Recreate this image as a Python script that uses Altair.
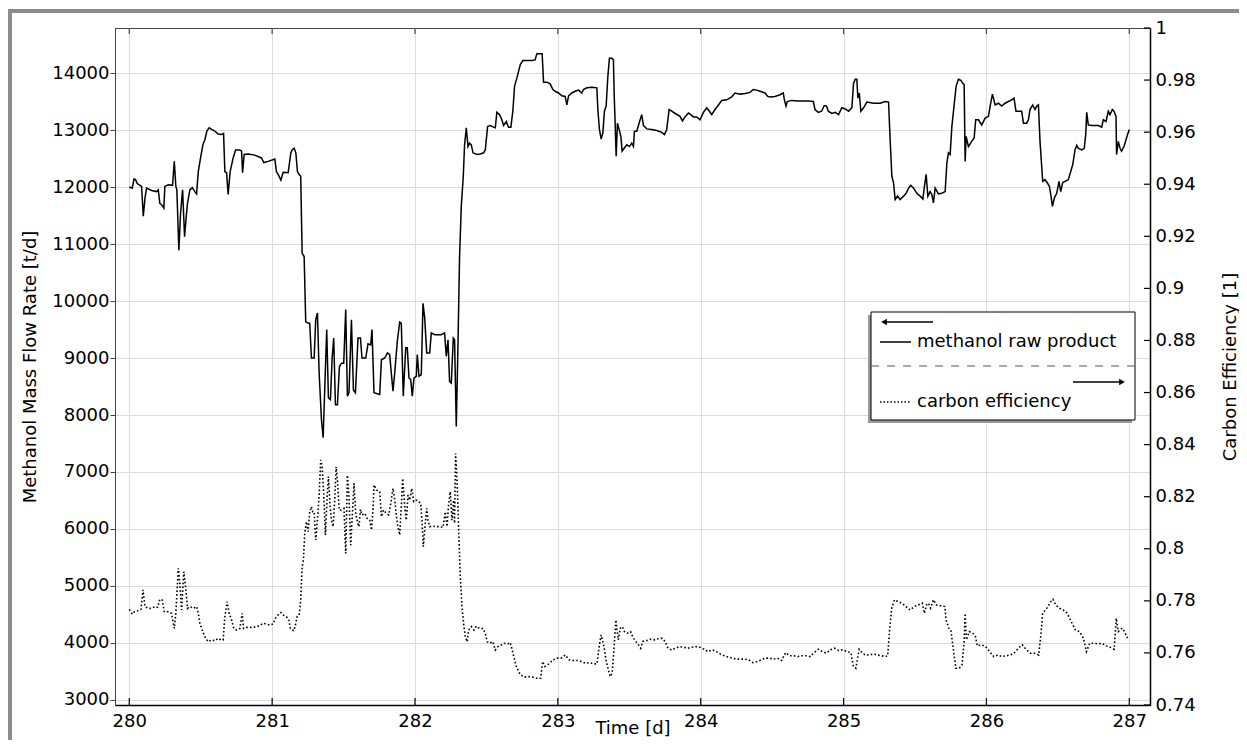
import altair as alt
import pandas as pd

# ---------------- data ----------------
flow_day = [
280.000,280.021,280.033,280.044,280.056,280.075,280.086,280.098,280.110,280.121,280.156,280.191,280.203,280.214,280.226,
280.242,280.249,280.273,280.303,280.315,280.326,280.333,280.347,280.359,280.373,280.387,280.399,280.408,280.424,280.441,
280.459,280.471,280.483,280.501,280.515,280.529,280.543,280.559,280.576,280.599,280.622,280.646,280.660,280.669,280.681,
280.692,280.706,280.727,280.744,280.774,280.786,280.793,280.804,280.832,280.879,280.925,280.942,280.972,281.019,281.030,
281.042,281.061,281.077,281.112,281.131,281.140,281.154,281.166,281.177,281.189,281.200,281.210,281.224,281.235,281.252,
281.263,281.275,281.294,281.305,281.317,281.329,281.345,281.357,281.368,281.382,281.394,281.408,281.420,281.431,281.443,
281.457,281.471,281.485,281.501,281.515,281.527,281.538,281.555,281.569,281.583,281.601,281.618,281.629,281.655,281.671,
281.690,281.699,281.713,281.753,281.765,281.788,281.807,281.823,281.834,281.846,281.858,281.876,281.893,281.904,281.918,
281.935,281.946,281.958,281.970,281.981,281.993,282.009,282.016,282.028,282.044,282.056,282.068,282.082,282.103,282.114,
282.138,282.184,282.207,282.219,282.231,282.242,282.254,282.268,282.277,282.289,282.301,282.312,282.324,282.338,282.347,
282.359,282.371,282.382,282.394,282.406,
282.434,282.457,282.480,282.492,282.508,282.527,282.550,282.562,282.573,282.592,282.608,282.620,282.639,282.655,282.671,
282.685,282.697,282.713,282.737,282.755,282.783,282.818,282.841,282.853,282.876,282.890,282.900,282.923,282.946,282.965,
282.981,283.005,283.028,283.051,283.063,283.075,283.098,283.121,283.145,283.168,283.179,283.203,283.238,283.273,283.280,
283.291,283.303,283.315,283.326,283.338,283.350,283.361,283.378,283.389,283.394,283.401,283.408,283.417,283.429,283.441,
283.450,283.464,283.483,283.501,283.517,283.529,283.536,283.552,283.576,283.587,283.599,283.622,283.657,283.692,283.727,
283.746,283.762,283.779,283.797,283.821,283.855,283.872,283.890,283.914,283.930,283.949,283.972,283.995,284.019,284.042,
284.061,284.077,284.100,284.124,284.147,284.182,284.217,284.240,284.275,284.310,284.345,284.368,284.392,284.415,284.450,
284.469,284.485,284.520,284.555,284.578,284.585,284.597,284.606,284.636,284.683,284.718,284.753,284.788,284.800,284.823,
284.846,284.865,284.881,284.893,
284.918,284.942,284.965,284.988,285.012,285.035,285.058,285.070,285.082,285.093,285.100,285.110,285.121,285.140,285.163,
285.210,285.256,285.291,285.315,285.326,285.338,285.350,285.361,285.378,285.396,285.420,285.438,285.455,285.471,285.490,
285.513,285.536,285.555,285.566,285.578,285.590,285.606,285.618,285.629,285.641,285.664,285.688,285.711,285.723,285.734,
285.746,285.758,285.774,285.788,285.804,285.821,285.834,285.844,285.851,285.858,285.874,285.897,285.914,285.925,285.944,
285.967,285.991,286.014,286.026,286.042,286.061,286.084,286.107,286.131,286.154,286.177,286.193,286.207,286.231,286.247,
286.259,286.282,286.294,286.305,286.324,286.340,286.352,286.364,286.375,286.394,286.410,286.427,286.441,286.452,286.462,
286.476,286.492,286.508,286.520,286.534,286.550,286.573,286.590,286.604,286.620,286.632,286.643,286.667,286.685,286.695,
286.702,286.713,286.737,286.760,286.783,286.807,286.818,286.837,286.853,286.865,286.881,286.893,286.907,286.911,286.923,
286.935,286.946,286.963,286.977,286.988,287.000]

flow_val = [
12000,11980,12140,12130,12060,12030,12010,11490,11810,11980,11940,11920,11950,11710,11690,
11630,12010,12040,12030,12450,12010,11950,10890,11540,11950,11130,11490,11720,11950,11990,
11920,11880,12270,12540,12740,12830,12980,13040,13010,12980,12930,12920,12940,12270,12250,
11870,12270,12510,12650,12650,12630,12250,12570,12580,12560,12510,12430,12450,12490,12270,
12220,12120,12260,12250,12600,12650,12680,12600,12270,12220,12190,10840,10780,9640,9610,
9610,9000,9000,9670,9790,8740,7920,7600,8440,9500,8300,8270,9000,9350,8180,
8180,8850,8910,8910,9850,8330,8390,9670,8440,8390,9350,9350,9000,9000,9250,
9230,9500,8390,8360,8970,9000,9090,9060,8740,8420,8740,9290,9630,9610,8330,
9180,9180,8650,8620,8330,8650,8680,9060,8680,8710,9960,9700,9090,9090,9440,
9410,9410,9440,9030,9320,8590,8560,9350,9320,7800,9260,10780,11660,12190,12740,
13040,12710,12770,12740,12600,
12570,12580,12600,12650,13060,13080,13050,13040,13310,13270,13180,13080,13150,13050,13050,
13330,13770,13910,14150,14220,14220,14220,14230,14340,14340,14340,13840,13840,13810,13710,
13680,13650,13600,13590,13440,13600,13650,13680,13700,13650,13710,13740,13750,13740,13360,
13010,12840,12950,13330,13420,13940,14260,14260,14230,13650,13120,12540,13120,13010,12890,
12630,12680,12740,12710,12770,12710,12980,12980,13180,13270,13080,13020,13010,12990,12960,
12920,13010,13360,13330,13290,13240,13160,13230,13300,13270,13230,13230,13180,13310,13390,
13330,13270,13360,13440,13520,13530,13580,13650,13630,13640,13660,13710,13700,13680,13650,
13590,13580,13590,13620,13650,13540,13420,13500,13520,13510,13510,13510,13500,13360,13310,
13330,13430,13420,13330,
13290,13310,13270,13390,13370,13330,13390,13820,13890,13890,13560,13650,13330,13390,13490,
13470,13470,13500,13490,12830,12190,12070,11780,11840,11780,11840,11890,11980,12030,11980,
11890,11840,11790,12010,12220,11840,11920,11870,11720,11980,11880,11890,11920,12420,12600,
12570,13060,13440,13770,13890,13870,13820,13800,12450,12890,12710,12800,12860,13180,13180,
13090,13210,13240,13420,13630,13440,13470,13420,13470,13500,13530,13560,13330,13330,13330,
13120,13120,13180,13360,13440,13360,13420,13440,12800,12100,12130,12070,12010,11840,11660,
11810,11890,12100,11920,12080,12100,12130,12270,12390,12650,12730,12680,12650,12680,12920,
13310,13090,13080,13080,13080,13050,13180,13150,13330,13270,13360,13330,13240,12570,12800,
12680,12630,12710,12830,12920,13010]

eff_day = [
280.000,280.021,280.035,280.058,280.082,280.096,280.110,280.133,280.156,280.179,280.198,280.214,280.231,280.245,280.273,
280.296,280.315,280.326,280.343,280.354,280.366,280.382,280.396,280.408,280.424,280.448,280.471,280.483,280.494,280.510,
280.529,280.552,280.576,280.599,280.622,280.641,280.657,280.669,280.685,280.699,280.716,280.732,280.751,280.774,280.790,
280.800,280.821,280.844,280.867,280.890,280.914,280.937,280.960,280.984,281.007,281.023,281.042,281.061,281.077,281.100,
281.117,281.128,281.140,281.152,281.163,281.175,281.189,281.200,281.210,281.219,281.228,281.240,281.252,281.263,281.275,
281.284,281.294,281.305,281.317,281.329,281.340,281.350,281.361,281.373,281.385,281.394,281.406,281.415,281.427,281.438,
281.448,281.457,281.469,281.485,281.503,281.515,281.527,281.538,281.550,281.562,281.573,281.585,281.597,281.608,281.618,
281.629,281.648,281.664,281.683,281.695,281.706,281.713,281.730,281.753,281.765,281.779,281.800,281.816,281.830,281.846,
281.858,281.876,281.893,281.904,281.914,281.928,281.939,281.951,281.963,281.977,281.991,282.009,282.026,282.040,282.049,
282.058,282.070,282.082,282.091,282.103,282.126,282.149,282.172,282.196,282.212,282.224,282.235,282.247,282.259,282.270,
282.277,282.284,282.296,282.305,282.317,282.329,282.340,282.352,282.366,282.375,282.394,282.413,282.429,282.452,282.476,
282.492,282.506,282.522,282.545,282.562,282.580,
282.594,282.623,282.651,282.666,282.680,282.709,282.737,282.766,282.794,282.823,282.851,282.880,282.894,282.909,282.937,
282.966,282.994,283.023,283.051,283.080,283.109,283.137,283.166,283.194,283.223,283.251,283.274,283.289,283.303,283.323,
283.337,283.351,283.366,283.380,283.394,283.406,283.423,283.437,283.451,283.466,283.486,283.509,283.523,283.537,283.560,
283.580,283.594,283.623,283.651,283.680,283.709,283.731,283.751,283.771,283.794,283.823,283.851,283.880,283.909,283.937,
283.966,283.994,284.023,284.051,284.080,284.109,284.137,284.166,284.194,284.223,284.251,284.280,284.309,284.337,284.366,
284.394,284.423,284.451,284.480,284.509,284.537,284.566,284.594,284.623,284.651,284.680,284.709,284.737,284.766,284.794,
284.823,284.851,284.880,284.909,284.937,284.966,284.994,285.023,285.051,285.069,285.086,285.109,285.123,285.151,285.180,
285.209,285.237,285.266,285.294,285.309,285.323,285.337,285.357,285.380,285.409,285.437,285.466,285.494,285.523,285.551,
285.566,285.580,285.594,285.609,285.629,285.651,285.680,285.709,285.717,285.737,285.751,285.766,285.786,285.809,285.829,
285.843,285.851,285.860,285.880,285.909,285.923,285.937,285.966,285.994,286.023,286.051,286.080,286.109,286.137,286.166,
286.194,286.223,286.251,286.280,286.309,286.337,286.366,286.380,286.394,286.423,286.451,286.466,286.486,286.509,286.537,
286.566,286.594,286.623,286.651,286.680,286.700,286.723,286.751,286.780,286.809,286.837,286.866,286.894,286.909,286.923,
286.951,286.966,286.994]

eff_val = [
0.7767,0.7749,0.7758,0.7762,0.7767,0.7842,0.7778,0.7771,0.7771,0.7778,0.7775,0.7806,0.7803,0.7758,0.7758,
0.7752,0.7694,0.7752,0.7925,0.7867,0.7765,0.7912,0.7842,0.7771,0.7778,0.7771,0.7778,0.7752,0.7714,0.7688,
0.7662,0.7643,0.7650,0.7647,0.7656,0.7650,0.7650,0.7739,0.7797,0.7752,0.7726,0.7694,0.7688,0.7694,0.7752,
0.7694,0.7698,0.7698,0.7698,0.7701,0.7705,0.7714,0.7711,0.7707,0.7711,0.7733,0.7746,0.7755,0.7746,0.7739,
0.7726,0.7694,0.7688,0.7685,0.7707,0.7739,0.7746,0.7803,0.7931,0.7957,0.8059,0.8104,0.8066,0.8142,0.8162,
0.8142,0.8142,0.8034,0.8110,0.8206,0.8341,0.8315,0.8213,0.8053,0.8200,0.8277,0.8162,0.8110,0.8085,0.8187,
0.8315,0.8264,0.8149,0.8149,0.8155,0.7982,0.8283,0.8200,0.8014,0.8136,0.8251,0.8136,0.8104,0.8085,0.8151,
0.8130,0.8136,0.8117,0.8110,0.8072,0.8149,0.8245,0.8226,0.8219,0.8123,0.8149,0.8136,0.8130,0.8174,0.8232,
0.8187,0.8098,0.8053,0.8162,0.8270,0.8162,0.8110,0.8206,0.8187,0.8232,0.8181,0.8187,0.8181,0.8174,0.8110,
0.8008,0.8085,0.8155,0.8110,0.8085,0.8087,0.8085,0.8085,0.8082,0.8142,0.8085,0.8168,0.8219,0.8110,0.8187,
0.8098,0.8366,0.8238,0.8085,0.7893,0.7778,0.7714,0.7662,0.7643,0.7688,0.7701,0.7688,0.7703,0.7694,0.7694,
0.7675,0.7643,0.7637,0.7643,0.7611,0.7624,
0.7627,0.7637,0.7635,0.7640,0.7612,0.7548,0.7516,0.7507,0.7509,0.7507,0.7503,0.7503,0.7567,0.7548,0.7558,
0.7573,0.7580,0.7580,0.7592,0.7573,0.7571,0.7571,0.7567,0.7560,0.7563,0.7558,0.7558,0.7624,0.7669,0.7624,
0.7573,0.7541,0.7509,0.7522,0.7624,0.7727,0.7650,0.7695,0.7701,0.7682,0.7676,0.7682,0.7663,0.7650,0.7635,
0.7618,0.7644,0.7648,0.7653,0.7650,0.7656,0.7656,0.7644,0.7618,0.7612,0.7618,0.7624,0.7622,0.7618,0.7622,
0.7624,0.7622,0.7614,0.7605,0.7612,0.7605,0.7596,0.7589,0.7584,0.7580,0.7576,0.7576,0.7576,0.7573,0.7563,
0.7567,0.7573,0.7580,0.7580,0.7576,0.7580,0.7571,0.7601,0.7589,0.7589,0.7586,0.7589,0.7589,0.7586,0.7601,
0.7614,0.7605,0.7599,0.7612,0.7618,0.7609,0.7612,0.7605,0.7601,0.7548,0.7541,0.7614,0.7605,0.7592,0.7592,
0.7596,0.7592,0.7589,0.7586,0.7589,0.7695,0.7772,0.7804,0.7797,0.7791,0.7778,0.7765,0.7778,0.7784,0.7791,
0.7752,0.7784,0.7791,0.7772,0.7804,0.7784,0.7781,0.7778,0.7727,0.7695,0.7688,0.7624,0.7541,0.7541,0.7554,
0.7637,0.7752,0.7650,0.7682,0.7673,0.7663,0.7627,0.7631,0.7624,0.7605,0.7586,0.7592,0.7586,0.7589,0.7592,
0.7599,0.7618,0.7631,0.7612,0.7599,0.7599,0.7592,0.7663,0.7752,0.7772,0.7797,0.7806,0.7784,0.7772,0.7765,
0.7752,0.7720,0.7688,0.7682,0.7656,0.7605,0.7637,0.7637,0.7635,0.7637,0.7627,0.7622,0.7614,0.7733,0.7682,
0.7695,0.7682,0.7650]

x_ticks = [280, 281, 282, 283, 284, 285, 286, 287]
flow_ticks = [3000, 4000, 5000, 6000, 7000, 8000, 9000, 10000, 11000, 12000, 13000, 14000]
eff_ticks = [0.74, 0.76, 0.78, 0.8, 0.82, 0.84, 0.86, 0.88, 0.9, 0.92, 0.94, 0.96, 0.98, 1.0]

legend_labels = ["methanol raw product", "carbon efficiency"]
x_title = "Time [d]"
left_title = "Methanol Mass Flow Rate [t/d]"
right_title = "Carbon Efficiency [1]"

# ---------------- chart ----------------
W, H = 1035, 677
PAD_L, PAD_T, PAD_R, PAD_B = 107, 20, 89, 35
FS = 18
GRID = "#dcdcdc"
DARK = "#444444"
FRAME = "#8c8c8c"

x_dom = [279.9, 287.145]
flow_dom = [2912, 14790]
eff_dom = [0.74, 1.0]

flow_df = pd.DataFrame({"day": flow_day, "flow": flow_val})
eff_df = pd.DataFrame({"day": eff_day, "eff": eff_val})
xt_df = pd.DataFrame({"day": x_ticks})
et_df = pd.DataFrame({"eff": eff_ticks})

x_scale = alt.Scale(domain=x_dom, nice=False, zero=False)
x_axis = alt.Axis(values=x_ticks, format="d", title=x_title, grid=True, gridColor=GRID,
                  ticks=False, labelPadding=7, labelFontSize=FS, titleFontSize=FS,
                  titleFontWeight="normal", titleX=W / 2, titleY=23, titleBaseline="middle",
                  domainColor="black", domainWidth=1.5, labelColor="black", titleColor="black")
x_enc = alt.X("day:Q", scale=x_scale, axis=x_axis)

flow_line = alt.Chart(flow_df).mark_line(color="black", strokeWidth=1.5).encode(
    x=x_enc,
    y=alt.Y("flow:Q", scale=alt.Scale(domain=flow_dom, nice=False, zero=False),
            axis=alt.Axis(values=flow_ticks, format="d", title=left_title, grid=True, gridColor=GRID,
                          tickSize=5, tickColor=DARK, labelPadding=1, labelFontSize=FS,
                          titleFontSize=FS, titleFontWeight="normal", titleAngle=270,
                          titleX=-85, titleY=H / 2, titleBaseline="middle", titleAlign="center",
                          domainColor=DARK, domainWidth=1, labelColor="black", titleColor="black")),
)

eff_line = alt.Chart(eff_df).mark_line(color="black", strokeWidth=1.6, strokeDash=[1.6, 2.2]).encode(
    x=x_enc,
    y=alt.Y("eff:Q", scale=alt.Scale(domain=eff_dom, nice=False, zero=False),
            axis=alt.Axis(orient="right", values=eff_ticks, format="~g", title=right_title, grid=False,
                          ticks=False, labelPadding=5, labelFontSize=FS, titleFontSize=FS,
                          titleFontWeight="normal", titleAngle=270, titleX=80, titleY=H / 2,
                          titleBaseline="middle", titleAlign="center",
                          domainColor="black", domainWidth=1.5, labelColor="black", titleColor="black")),
)

# inward ticks (bottom, top, right)
bottom_ticks = alt.Chart(xt_df).mark_rule(color="black", strokeWidth=1.2).encode(
    x=x_enc, y=alt.value(H), y2=alt.value(H - 7))
top_ticks = alt.Chart(xt_df).mark_rule(color=DARK, strokeWidth=1.2).encode(
    x=x_enc, y=alt.value(0), y2=alt.value(6))
right_ticks = alt.Chart(et_df).mark_rule(color="black", strokeWidth=1.2).encode(
    y=alt.Y("eff:Q", scale=alt.Scale(domain=eff_dom, nice=False, zero=False), axis=None),
    x=alt.value(W), x2=alt.value(W - 6))

# outer figure frame (decoration)
frame_left = alt.Chart().mark_rule(color=FRAME, strokeWidth=4).encode(
    x=alt.value(-105), y=alt.value(-19), y2=alt.value(H + 60))
frame_top = alt.Chart().mark_rule(color=FRAME, strokeWidth=4).encode(
    x=alt.value(-107), x2=alt.value(W + PAD_R), y=alt.value(-17))

# custom legend box
LX0, LX1, LY0, LY1 = 756, 1020, 284, 392
shadow = alt.Chart().mark_rect(color="#9a9a9a").encode(
    x=alt.value(LX0 - 3), x2=alt.value(LX1 - 3), y=alt.value(LY0 + 3), y2=alt.value(LY1 + 3))
box = alt.Chart().mark_rect(fill="white", stroke="black", strokeWidth=1).encode(
    x=alt.value(LX0), x2=alt.value(LX1), y=alt.value(LY0), y2=alt.value(LY1))
arrow_l = alt.Chart().mark_rule(color="black", strokeWidth=1.5).encode(
    x=alt.value(770), x2=alt.value(818), y=alt.value(294))
head_l = alt.Chart().mark_point(shape="triangle-left", filled=True, color="black", size=45, opacity=1).encode(
    x=alt.value(769), y=alt.value(294))
sample_solid = alt.Chart().mark_rule(color="black", strokeWidth=1.5).encode(
    x=alt.value(765), x2=alt.value(796), y=alt.value(314))
text1 = alt.Chart().mark_text(align="left", baseline="middle", fontSize=FS, color="black").encode(
    x=alt.value(802), y=alt.value(314), text=alt.value(legend_labels[0]))
sep = alt.Chart().mark_rule(color="#555555", strokeWidth=1, strokeDash=[8, 8]).encode(
    x=alt.value(LX0), x2=alt.value(LX1), y=alt.value(338))
arrow_r = alt.Chart().mark_rule(color="black", strokeWidth=1.5).encode(
    x=alt.value(958), x2=alt.value(1006), y=alt.value(354))
head_r = alt.Chart().mark_point(shape="triangle-right", filled=True, color="black", size=45, opacity=1).encode(
    x=alt.value(1007), y=alt.value(354))
sample_dot = alt.Chart().mark_rule(color="black", strokeWidth=1.5, strokeDash=[1.5, 2]).encode(
    x=alt.value(765), x2=alt.value(796), y=alt.value(374))
text2 = alt.Chart().mark_text(align="left", baseline="middle", fontSize=FS, color="black").encode(
    x=alt.value(802), y=alt.value(374), text=alt.value(legend_labels[1]))

chart = alt.layer(
    flow_line, eff_line, bottom_ticks, top_ticks, right_ticks,
    frame_left, frame_top,
    shadow, box, arrow_l, head_l, sample_solid, text1, sep, arrow_r, head_r, sample_dot, text2,
).resolve_scale(y="independent").properties(
    width=W, height=H,
    autosize=alt.AutoSizeParams(type="none"),
    padding={"left": PAD_L, "top": PAD_T, "right": PAD_R, "bottom": PAD_B},
).configure(
    font="DejaVu Sans",
).configure_view(
    stroke=DARK, strokeWidth=1,
)

chart.save("out.html", embed_options={"renderer": "svg", "actions": False})
